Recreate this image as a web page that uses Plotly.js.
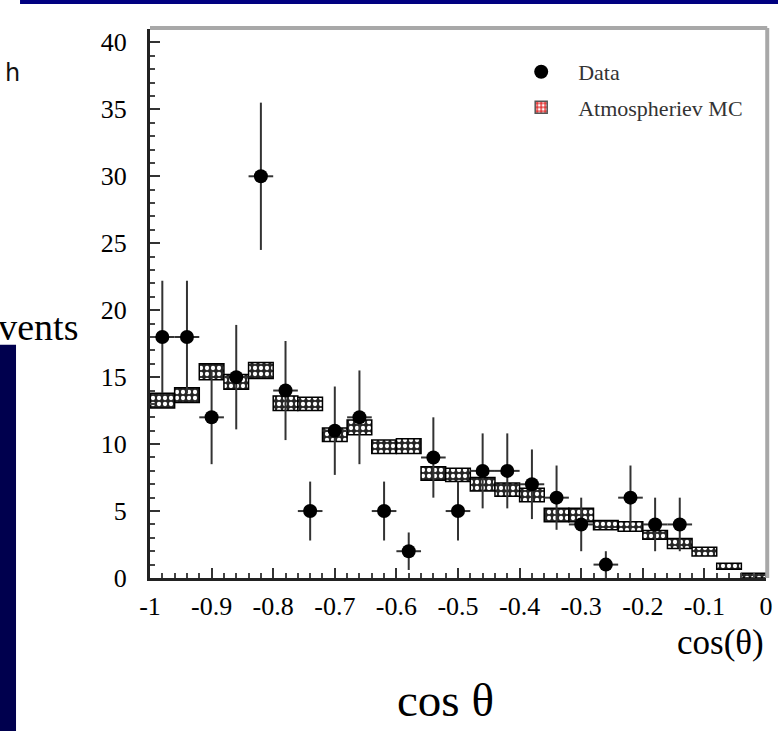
<!DOCTYPE html>
<html>
<head>
<meta charset="utf-8">
<script src="https://cdn.plot.ly/plotly-3.0.1.min.js"></script>
<style>
  html, body { margin: 0; padding: 0; background: #ffffff; }
  #chart { width: 778px; height: 731px; }
</style>
</head>
<body>
<div id="chart"></div>
<script>
// ---- Data ----
// Monte Carlo histogram: bin centres and the low / high edges of each hatched band
const mcBinCenters = [-0.98, -0.94, -0.90, -0.86, -0.82, -0.78, -0.74, -0.70, -0.66, -0.62,
                      -0.58, -0.54, -0.50, -0.46, -0.42, -0.38, -0.34, -0.30, -0.26, -0.22,
                      -0.18, -0.14, -0.10, -0.06, -0.02];
const mcLow  = [12.7, 13.1, 14.8, 14.1, 14.9, 12.5, 12.5, 10.2, 10.7, 9.3,
                9.3, 7.3, 7.2, 6.5, 6.1, 5.7, 4.2, 4.2, 3.6, 3.5,
                2.9, 2.2, 1.65, 0.65, 0.0];
const mcHigh = [13.8, 14.2, 16.0, 15.2, 16.1, 13.6, 13.5, 11.2, 11.8, 10.3,
                10.4, 8.3, 8.2, 7.5, 7.1, 6.7, 5.2, 5.2, 4.3, 4.2,
                3.55, 2.95, 2.3, 1.1, 0.35];

// Data points with statistical error bars
const dataX = [-0.98, -0.94, -0.90, -0.86, -0.82, -0.78, -0.74, -0.70, -0.66, -0.62, -0.58,
               -0.54, -0.50, -0.46, -0.42, -0.38, -0.34, -0.30, -0.26, -0.22, -0.18, -0.14];
const dataY = [18, 18, 12, 15, 30, 14, 5, 11, 12, 5, 2,
               9, 5, 8, 8, 7, 6, 4, 1, 6, 4, 4];
const dataErr = [4.2, 4.2, 3.5, 3.9, 5.5, 3.7, 2.2, 3.3, 3.5, 2.2, 1.4,
                 3.0, 2.2, 2.8, 2.8, 2.6, 2.4, 2.0, 1.0, 2.4, 2.0, 2.0];
const binHalfWidth = 0.02;

// Tick labels
const xTickVals = [-1, -0.9, -0.8, -0.7, -0.6, -0.5, -0.4, -0.3, -0.2, -0.1, 0];
const xTickText = ['-1', '-0.9', '-0.8', '-0.7', '-0.6', '-0.5', '-0.4', '-0.3', '-0.2', '-0.1', '0'];
const yTickVals = [0, 5, 10, 15, 20, 25, 30, 35, 40];
const yTickText = ['0', '5', '10', '15', '20', '25', '30', '35', '40'];

const seriesNames = ['Data', 'Atmospheriev MC'];

// ---- Traces ----
const mcTrace = {
  type: 'bar',
  x: mcBinCenters,
  base: mcLow,
  y: mcHigh.map((h, i) => h - mcLow[i]),
  width: 2 * binHalfWidth,
  name: seriesNames[1],
  showlegend: false,
  marker: {
    color: '#262626',
    line: { color: '#000000', width: 1.5 },
    pattern: { shape: '.', fgcolor: '#ffffff', bgcolor: '#262626', size: 6, solidity: 0.4, fillmode: 'replace' }
  },
  hoverinfo: 'skip'
};

const dataTrace = {
  type: 'scatter',
  mode: 'markers',
  x: dataX,
  y: dataY,
  name: seriesNames[0],
  legendrank: 1,
  legendgroup: 'a',
  marker: { color: '#000000', size: 14, symbol: 'circle' },
  error_y: { type: 'data', array: dataErr, visible: true, color: '#333333', thickness: 2, width: 0 },
  error_x: { type: 'constant', value: binHalfWidth, visible: true, color: '#333333', thickness: 2, width: 0 }
};

// legend entry for the MC (drawn red in the reference key)
const mcLegendTrace = {
  type: 'bar',
  x: [null],
  y: [null],
  name: seriesNames[1],
  legendrank: 2,
  legendgroup: 'b',
  marker: {
    color: '#e23a3a',
    line: { color: '#555555', width: 1.5 },
    pattern: { shape: '.', fgcolor: '#ffffff', bgcolor: '#e23a3a', size: 5, solidity: 0.4, fillmode: 'replace' }
  }
};

const serif = 'Liberation Serif, Times New Roman, serif';

const layout = {
  width: 778,
  height: 731,
  margin: { l: 150, r: 12, t: 29, b: 153 },
  paper_bgcolor: '#ffffff',
  plot_bgcolor: '#ffffff',
  bargap: 0,
  barmode: 'overlay',
  showlegend: true,
  legend: {
    x: 0.575, y: 0.96, xanchor: 'left', yanchor: 'top',
    bgcolor: 'rgba(0,0,0,0)',
    font: { family: serif, size: 22, color: '#333333' },
    itemwidth: 64,
    tracegroupgap: 4,
    traceorder: 'grouped'
  },
  xaxis: {
    range: [-1, 0],
    tickmode: 'array',
    tickvals: xTickVals,
    ticktext: xTickText,
    ticks: 'inside',
    ticklen: 10,
    tickwidth: 2,
    tickcolor: '#333333',
    minor: { dtick: 0.02, tick0: 0, ticks: 'inside', ticklen: 5, tickwidth: 2, tickcolor: '#444444' },
    showline: true,
    linecolor: '#222222',
    linewidth: 3,
    showgrid: false,
    zeroline: false,
    tickfont: { family: serif, size: 26, color: '#000000' },
    ticklabelstandoff: 3,
    fixedrange: true
  },
  yaxis: {
    range: [0, 41],
    tickmode: 'array',
    tickvals: yTickVals,
    ticktext: yTickText,
    ticks: 'inside',
    ticklen: 10,
    tickwidth: 2,
    tickcolor: '#333333',
    minor: { dtick: 1, tick0: 0, ticks: 'inside', ticklen: 5, tickwidth: 2, tickcolor: '#444444' },
    showline: true,
    linecolor: '#222222',
    linewidth: 3,
    showgrid: false,
    zeroline: false,
    tickfont: { family: serif, size: 26, color: '#000000' },
    ticklabelstandoff: 15,
    fixedrange: true
  },
  shapes: [
    // grey frame (top and right)
    { type: 'line', xref: 'paper', yref: 'paper', x0: 0, x1: 1.002, y0: 1.002, y1: 1.002, line: { color: '#a8a8a8', width: 4 } },
    { type: 'line', xref: 'paper', yref: 'paper', x0: 1.002, x1: 1.002, y0: 0, y1: 1.002, line: { color: '#a8a8a8', width: 4 } },
    // slide decoration: navy rule at top and navy bar at left
    { type: 'rect', xref: 'paper', yref: 'paper', x0: -0.211, x1: 1.03, y0: 1.0455, y1: 1.06, fillcolor: '#000080', line: { width: 0 } },
    { type: 'rect', xref: 'paper', yref: 'paper', x0: -0.26, x1: -0.2175, y0: -0.3, y1: 0.425, fillcolor: '#00004e', line: { width: 0 } }
  ],
  annotations: [
    { text: 'cos(θ)', xref: 'paper', yref: 'paper', x: 1.0, y: -0.118, xanchor: 'right', yanchor: 'middle',
      showarrow: false, font: { family: serif, size: 35, color: '#000000' } },
    { text: 'cos θ', xref: 'paper', yref: 'paper', x: 0.48, y: -0.222, xanchor: 'center', yanchor: 'middle',
      showarrow: false, font: { family: serif, size: 47, color: '#000000' } },
    { text: 'Events', xref: 'paper', yref: 'paper', x: -0.113, y: 0.458, xanchor: 'right', yanchor: 'middle',
      showarrow: false, font: { family: serif, size: 38, color: '#000000' } },
    { text: 'h', xref: 'paper', yref: 'paper', x: -0.238, y: 0.92, xanchor: 'left', yanchor: 'middle',
      showarrow: false, font: { family: 'DejaVu Sans, sans-serif', size: 24, color: '#111111' } }
  ]
};

Plotly.newPlot('chart', [mcTrace, dataTrace, mcLegendTrace], layout, { staticPlot: true, displayModeBar: false });
</script>
</body>
</html>
